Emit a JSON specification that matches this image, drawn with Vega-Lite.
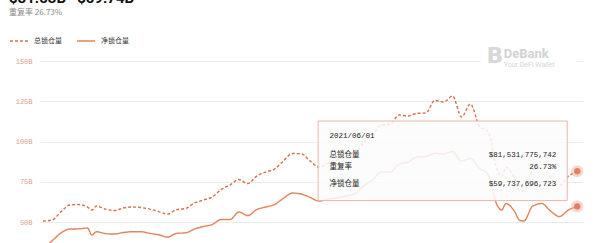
{
  "$schema": "https://vega.github.io/schema/vega-lite/v6.json",
  "width": 543,
  "height": 182,
  "autosize": {"type": "none"},
  "padding": {"left": 40, "top": 61, "right": 17, "bottom": 0},
  "background": "white",
  "title": {
    "text": "$81.53B\u00a0\u00a0\u00a0$59.74B",
    "subtitle": "重复率 26.73%",
    "anchor": "start",
    "frame": "group",
    "dx": -31,
    "offset": 14,
    "font": "Roboto",
    "fontSize": 15,
    "fontWeight": "bold",
    "color": "#111111",
    "subtitleFont": "Noto Sans CJK SC",
    "subtitleFontSize": 8,
    "subtitleColor": "#8a8a8a",
    "subtitlePadding": 3
  },
  "config": {
    "view": {"stroke": null},
    "axis": {"labelFont": "Liberation Mono"}
  },
  "datasets": {
    "tvl": [
      {"date": "2021-02-01", "total": 50.62, "net": 33.85},
      {"date": "2021-02-03", "total": 51.24, "net": 38.20},
      {"date": "2021-02-05", "total": 56.21, "net": 43.17},
      {"date": "2021-02-07", "total": 60.56, "net": 45.65},
      {"date": "2021-02-09", "total": 60.87, "net": 45.78},
      {"date": "2021-02-11", "total": 59.32, "net": 46.27},
      {"date": "2021-02-12", "total": 57.45, "net": 41.93},
      {"date": "2021-02-13", "total": 59.94, "net": 43.98},
      {"date": "2021-02-15", "total": 58.07, "net": 42.86},
      {"date": "2021-02-17", "total": 57.14, "net": 42.55},
      {"date": "2021-02-19", "total": 58.70, "net": 43.48},
      {"date": "2021-02-21", "total": 59.32, "net": 43.98},
      {"date": "2021-02-23", "total": 59.01, "net": 43.98},
      {"date": "2021-02-25", "total": 58.07, "net": 42.98},
      {"date": "2021-02-27", "total": 56.52, "net": 42.11},
      {"date": "2021-03-01", "total": 54.97, "net": 40.68},
      {"date": "2021-03-03", "total": 57.76, "net": 42.98},
      {"date": "2021-03-05", "total": 58.38, "net": 43.29},
      {"date": "2021-03-07", "total": 61.80, "net": 45.65},
      {"date": "2021-03-09", "total": 63.66, "net": 47.20},
      {"date": "2021-03-11", "total": 65.53, "net": 48.45},
      {"date": "2021-03-13", "total": 70.19, "net": 51.55},
      {"date": "2021-03-15", "total": 72.98, "net": 51.55},
      {"date": "2021-03-17", "total": 76.40, "net": 56.21},
      {"date": "2021-03-19", "total": 73.91, "net": 54.04},
      {"date": "2021-03-21", "total": 78.57, "net": 57.76},
      {"date": "2021-03-23", "total": 81.06, "net": 59.32},
      {"date": "2021-03-25", "total": 82.92, "net": 60.87},
      {"date": "2021-03-27", "total": 87.89, "net": 64.72},
      {"date": "2021-03-29", "total": 92.55, "net": 68.01},
      {"date": "2021-03-31", "total": 92.42, "net": 67.39},
      {"date": "2021-04-02", "total": 87.89, "net": 65.34},
      {"date": "2021-04-04", "total": 84.16, "net": 63.04},
      {"date": "2021-04-06", "total": 86.65, "net": 64.29},
      {"date": "2021-04-08", "total": 88.51, "net": 64.91},
      {"date": "2021-04-10", "total": 90.99, "net": 66.15},
      {"date": "2021-04-12", "total": 92.86, "net": 67.39},
      {"date": "2021-04-14", "total": 99.07, "net": 72.36},
      {"date": "2021-04-16", "total": 104.04, "net": 76.09},
      {"date": "2021-04-18", "total": 110.25, "net": 81.06},
      {"date": "2021-04-20", "total": 110.87, "net": 81.06},
      {"date": "2021-04-22", "total": 116.46, "net": 86.02},
      {"date": "2021-04-24", "total": 115.84, "net": 87.27},
      {"date": "2021-04-26", "total": 117.52, "net": 90.37},
      {"date": "2021-04-28", "total": 117.70, "net": 90.68},
      {"date": "2021-04-30", "total": 125.47, "net": 92.55},
      {"date": "2021-05-02", "total": 124.53, "net": 92.24},
      {"date": "2021-05-04", "total": 128.26, "net": 93.79},
      {"date": "2021-05-06", "total": 115.21, "net": 87.89},
      {"date": "2021-05-08", "total": 123.29, "net": 89.44},
      {"date": "2021-05-10", "total": 109.63, "net": 83.54},
      {"date": "2021-05-12", "total": 105.90, "net": 79.19},
      {"date": "2021-05-14", "total": 82.70, "net": 60.56},
      {"date": "2021-05-15", "total": 78.40, "net": 57.45},
      {"date": "2021-05-16", "total": 83.90, "net": 61.49},
      {"date": "2021-05-18", "total": 76.70, "net": 56.21},
      {"date": "2021-05-19", "total": 69.90, "net": 51.24},
      {"date": "2021-05-20", "total": 69.10, "net": 50.62},
      {"date": "2021-05-22", "total": 81.80, "net": 59.94},
      {"date": "2021-05-24", "total": 83.90, "net": 61.49},
      {"date": "2021-05-26", "total": 77.60, "net": 56.83},
      {"date": "2021-05-28", "total": 72.90, "net": 53.42},
      {"date": "2021-05-30", "total": 78.40, "net": 57.45},
      {"date": "2021-06-01", "total": 81.531775742, "net": 59.737696723}
    ]
  },
  "layer": [
    {
      "data": {"name": "tvl"},
      "transform": [{"fold": ["total", "net"], "as": ["series", "tvl"]}],
      "mark": {"type": "line", "clip": true, "strokeWidth": 1.4, "interpolate": "monotone"},
      "encoding": {
        "x": {
          "field": "date",
          "type": "temporal",
          "axis": null,
          "scale": {
            "type": "utc",
            "domain": [1612080000000, 1622617200000]
          }
        },
        "y": {
          "field": "tvl",
          "type": "quantitative",
          "scale": {"domain": [37, 150], "nice": false, "zero": false},
          "axis": {
            "values": [50, 75, 100, 125, 150],
            "labelExpr": "datum.value + 'B'",
            "domain": false,
            "ticks": false,
            "title": null,
            "gridColor": "#ebebeb",
            "gridWidth": 1,
            "labelColor": "#d6a293",
            "labelFontSize": 7,
            "labelPadding": 8
          }
        },
        "color": {
          "field": "series",
          "type": "nominal",
          "scale": {"domain": ["total", "net"], "range": ["#d4714a", "#df845c"]},
          "legend": {
            "orient": "none",
            "legendX": -31,
            "legendY": -30,
            "direction": "horizontal",
            "title": null,
            "symbolType": "stroke",
            "symbolSize": 324,
            "symbolStrokeWidth": 1.5,
            "labelFont": "Noto Sans CJK SC",
            "labelFontSize": 7,
            "labelColor": "#333333",
            "labelOffset": 5,
            "columnPadding": 12,
            "labelExpr": "datum.label == 'total' ? '总锁仓量' : '净锁仓量'"
          }
        },
        "strokeDash": {
          "field": "series",
          "type": "nominal",
          "scale": {"domain": ["total", "net"], "range": [[3, 2], [1, 0]]}
        }
      }
    },
    {
      "data": {"values": [{}]},
      "mark": {"type": "rect", "fill": "#fbfbfb", "fillOpacity": 0.86, "stroke": "#e9b9a8", "strokeWidth": 1},
      "encoding": {
        "x": {"datum": 1617476400000, "type": "temporal"},
        "x2": {"datum": 1622311200000},
        "y": {"datum": 112.73, "type": "quantitative"},
        "y2": {"datum": 63.35}
      }
    },
    {
      "data": {"values": [{}]},
      "mark": {"type": "text", "align": "left", "baseline": "middle", "font": "Liberation Mono", "fontSize": 7.5, "color": "#222222", "text": "2021/06/01"},
      "encoding": {
        "x": {"datum": 1617696000000, "type": "temporal"},
        "y": {"datum": 103.6, "type": "quantitative"}
      }
    },
    {
      "data": {"values": [{}]},
      "mark": {"type": "text", "align": "left", "baseline": "middle", "font": "Noto Sans CJK SC", "fontSize": 7.5, "color": "#222222", "text": "总锁仓量"},
      "encoding": {
        "x": {"datum": 1617696000000, "type": "temporal"},
        "y": {"datum": 91.92, "type": "quantitative"}
      }
    },
    {
      "data": {"values": [{}]},
      "mark": {"type": "text", "align": "left", "baseline": "middle", "font": "Noto Sans CJK SC", "fontSize": 7.5, "color": "#222222", "text": "重复率"},
      "encoding": {
        "x": {"datum": 1617696000000, "type": "temporal"},
        "y": {"datum": 84.35, "type": "quantitative"}
      }
    },
    {
      "data": {"values": [{}]},
      "mark": {"type": "text", "align": "left", "baseline": "middle", "font": "Noto Sans CJK SC", "fontSize": 7.5, "color": "#222222", "text": "净锁仓量"},
      "encoding": {
        "x": {"datum": 1617696000000, "type": "temporal"},
        "y": {"datum": 73.6, "type": "quantitative"}
      }
    },
    {
      "data": {"values": [{}]},
      "mark": {"type": "text", "align": "right", "baseline": "middle", "font": "Liberation Mono", "fontSize": 7.5, "color": "#222222", "text": "$81,531,775,742"},
      "encoding": {
        "x": {"datum": 1622098800000, "type": "temporal"},
        "y": {"datum": 91.92, "type": "quantitative"}
      }
    },
    {
      "data": {"values": [{}]},
      "mark": {"type": "text", "align": "right", "baseline": "middle", "font": "Liberation Mono", "fontSize": 7.5, "color": "#222222", "text": "26.73%"},
      "encoding": {
        "x": {"datum": 1622098800000, "type": "temporal"},
        "y": {"datum": 84.35, "type": "quantitative"}
      }
    },
    {
      "data": {"values": [{}]},
      "mark": {"type": "text", "align": "right", "baseline": "middle", "font": "Liberation Mono", "fontSize": 7.5, "color": "#222222", "text": "$59,737,696,723"},
      "encoding": {
        "x": {"datum": 1622098800000, "type": "temporal"},
        "y": {"datum": 73.6, "type": "quantitative"}
      }
    },
    {
      "data": {"name": "tvl"},
      "transform": [
        {"joinaggregate": [{"op": "max", "field": "date", "as": "last"}]},
        {"filter": "time(datum.date) == time(datum.last)"},
        {"fold": ["total", "net"], "as": ["series", "tvl"]}
      ],
      "mark": {"type": "point", "filled": true, "size": 150, "color": "#f3a896", "opacity": 0.45},
      "encoding": {
        "x": {"field": "date", "type": "temporal"},
        "y": {"field": "tvl", "type": "quantitative"}
      }
    },
    {
      "data": {"name": "tvl"},
      "transform": [
        {"joinaggregate": [{"op": "max", "field": "date", "as": "last"}]},
        {"filter": "time(datum.date) == time(datum.last)"},
        {"fold": ["total", "net"], "as": ["series", "tvl"]}
      ],
      "mark": {"type": "point", "filled": true, "size": 40, "color": "#e47d62", "opacity": 1},
      "encoding": {
        "x": {"field": "date", "type": "temporal"},
        "y": {"field": "tvl", "type": "quantitative"}
      }
    },
    {
      "data": {"values": [{}]},
      "mark": {"type": "rect", "fill": "white", "clip": false},
      "encoding": {
        "x": {"datum": 1620630000000, "type": "temporal"},
        "x2": {"datum": 1622505600000},
        "y": {"datum": 158, "type": "quantitative"},
        "y2": {"datum": 147}
      }
    },
    {
      "data": {"values": [{}]},
      "mark": {"type": "text", "align": "center", "baseline": "middle", "font": "DejaVu Sans", "fontSize": 22, "fontWeight": "bold", "color": "#d8d8d8", "text": "B", "clip": false},
      "encoding": {
        "x": {"datum": 1620907200000, "type": "temporal"},
        "y": {"datum": 153.3, "type": "quantitative"}
      }
    },
    {
      "data": {"values": [{}]},
      "mark": {"type": "text", "align": "left", "baseline": "middle", "font": "Roboto", "fontSize": 13, "fontWeight": "bold", "color": "#d2d2d2", "text": "DeBank", "clip": false},
      "encoding": {
        "x": {"datum": 1621080000000, "type": "temporal"},
        "y": {"datum": 154.6, "type": "quantitative"}
      }
    },
    {
      "data": {"values": [{}]},
      "mark": {"type": "text", "align": "left", "baseline": "middle", "font": "Roboto", "fontSize": 7, "color": "#d5d5d5", "text": "Your DeFi Wallet", "clip": false},
      "encoding": {
        "x": {"datum": 1621080000000, "type": "temporal"},
        "y": {"datum": 147.8, "type": "quantitative"}
      }
    }
  ]
}
